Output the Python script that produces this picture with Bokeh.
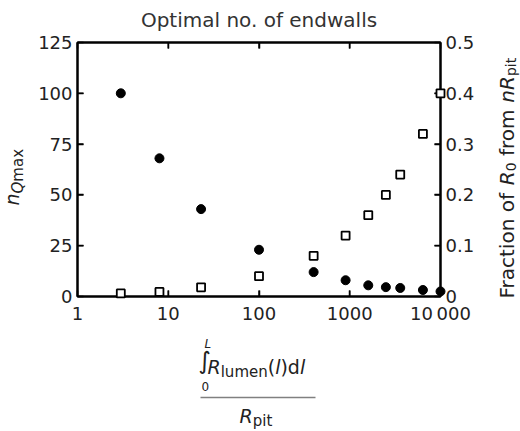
import math
from bokeh.plotting import figure
from bokeh.models import (Range1d, LinearAxis, LogAxis, FixedTicker,
                          CustomJSTickFormatter)
from bokeh.core.properties import value
from bokeh.embed import file_html
from bokeh.resources import INLINE

# ---- data ----
ratio = [3, 8, 23, 100, 400, 900, 1600, 2500, 3600, 6400, 10000]
n_qmax = [100, 68, 43, 23, 12, 8, 5.5, 4.6, 4.2, 3.2, 2.5]
frac_r0 = [0.006, 0.009, 0.018, 0.04, 0.08, 0.12, 0.16, 0.2, 0.24, 0.32, 0.4]

x_ticks = [1, 10, 100, 1000, 10000]
x_tick_labels = ["1", "10", "100", "1000", "10\u2009000"]
n_ticks = [0, 25, 50, 75, 100, 125]
n_tick_labels = ["0", "25", "50", "75", "100", "125"]
frac_ticks = [0, 0.1, 0.2, 0.3, 0.4, 0.5]
frac_tick_labels = ["0", "0.1", "0.2", "0.3", "0.4", "0.5"]

FONT = "DejaVu Sans"
TXT = "#222222"
W, H = 520, 431
FL, FR, FT, FB = 77, 440, 42, 296   # frame edges in canvas pixels
XMIN, XMAX, YMIN, YMAX = 1, 10000, 0, 125
FMIN, FMAX = 0, 0.5
SHIFT = 0.36   # em offset between requested anchor and drawn baseline
TICK = 6       # inward tick length, px

p = figure(width=W, height=H, x_axis_type="log",
           x_range=Range1d(XMIN, XMAX), y_range=Range1d(YMIN, YMAX),
           output_backend="svg", toolbar_location=None,
           min_border_left=FL, min_border_right=W - FR,
           min_border_top=FT, min_border_bottom=H - FB)
p.extra_y_ranges = {"frac": Range1d(FMIN, FMAX)}
p.grid.visible = False
p.outline_line_color = "black"
p.outline_line_width = 2
p.background_fill_color = "white"
p.border_fill_color = "white"


def fmt(tvals, tlabels):
    return CustomJSTickFormatter(args=dict(tv=tvals, tl=tlabels), code="""
        const i = tv.findIndex(t => Math.abs(t - tick) < 1e-9 * Math.max(1, Math.abs(t)));
        return i >= 0 ? tl[i] : '';
    """)


def style_axis(ax, show_labels=True, standoff=5):
    ax.axis_line_color = "black"
    ax.axis_line_width = 2
    ax.major_tick_in = TICK
    ax.major_tick_out = 0
    ax.major_tick_line_color = "black"
    ax.major_tick_line_width = 1.5
    ax.minor_tick_line_color = None
    ax.major_label_text_font = FONT
    ax.major_label_text_font_size = "18px"
    ax.major_label_text_color = TXT
    ax.major_label_standoff = standoff
    if not show_labels:
        ax.major_label_text_alpha = 0
        ax.major_label_text_font_size = "1px"


xb = p.xaxis[0]
xb.ticker = FixedTicker(ticks=x_ticks)
xb.formatter = fmt(x_ticks, x_tick_labels)
style_axis(xb, standoff=6)

yl = p.yaxis[0]
yl.ticker = FixedTicker(ticks=n_ticks)
yl.formatter = fmt(n_ticks, n_tick_labels)
style_axis(yl, standoff=5)

xt = LogAxis(ticker=FixedTicker(ticks=x_ticks))
style_axis(xt, show_labels=False)
p.add_layout(xt, "above")

yr = LinearAxis(y_range_name="frac", ticker=FixedTicker(ticks=frac_ticks),
                formatter=fmt(frac_ticks, frac_tick_labels))
style_axis(yr, standoff=5)
p.add_layout(yr, "right")

# inward tick marks drawn from the tick lists (inside the frame)
dy_tick = TICK / (FB - FT) * (YMAX - YMIN)
kx_tick = 10 ** (TICK / (FR - FL) * (math.log10(XMAX) - math.log10(XMIN)))
inner_x = [t for t in x_ticks if XMIN < t < XMAX]
p.segment(x0=inner_x, y0=[YMIN] * len(inner_x), x1=inner_x, y1=[YMIN + dy_tick] * len(inner_x),
          line_color="black", line_width=1.5)
p.segment(x0=inner_x, y0=[YMAX] * len(inner_x), x1=inner_x, y1=[YMAX - dy_tick] * len(inner_x),
          line_color="black", line_width=1.5)
inner_n = [v for v in n_ticks if YMIN < v < YMAX]
p.segment(x0=[XMIN] * len(inner_n), y0=inner_n, x1=[XMIN * kx_tick] * len(inner_n), y1=inner_n,
          line_color="black", line_width=1.5)
inner_f = [v for v in frac_ticks if FMIN < v < FMAX]
p.segment(x0=[XMAX] * len(inner_f), y0=inner_f, x1=[XMAX / kx_tick] * len(inner_f), y1=inner_f,
          y_range_name="frac", line_color="black", line_width=1.5)

# ---- marks (overlay level so edge markers are not clipped) ----
sq = p.scatter(ratio, frac_r0, y_range_name="frac", marker="square", size=8,
               fill_color="white", line_color="black", line_width=1.8)
sq.level = "overlay"
ci = p.scatter(ratio, n_qmax, marker="circle", size=9,
               fill_color="black", line_color="black")
ci.level = "overlay"

# ---- texts outside the frame, as text glyphs ----
ADV = {"F": .575, "r": .411, "a": .613, "c": .550, "t": .392, "i": .278,
       "o": .612, "n": .634, " ": .318, "f": .352, "m": .974, "R": .695,
       "0": .636, "p": .635, "Q": .787, "x": .592, "l": .278, "u": .634,
       "e": .615, "d": .635, "(": .390, ")": .390, "L": .557}


def adv(s, size):
    return sum(ADV.get(ch, 0.6) for ch in s) * size


def to_data(X, Y):
    xd = 10 ** (math.log10(XMIN) + (X - FL) / (FR - FL) * (math.log10(XMAX) - math.log10(XMIN)))
    yd = YMIN + (FB - Y) / (FB - FT) * (YMAX - YMIN)
    return xd, yd


def label(text, X, Y, size, style="normal", vertical=False, align="left", color=TXT):
    # X, Y: start of the text on its baseline (canvas pixels)
    lead = adv(text[:len(text) - len(text.lstrip())], size)
    text = text.strip()
    if vertical:
        X, Y, angle = X - SHIFT * size, Y - lead, math.pi / 2
    else:
        X, Y, angle = X + lead, Y - SHIFT * size, 0.0
    xd, yd = to_data(X, Y)
    r = p.text(x=[xd], y=[yd], text=[text], angle=angle,
               text_font=value(FONT), text_font_size=value(f"{size}px"),
               text_font_style=value(style), text_align=value(align),
               text_baseline=value("alphabetic"), text_color=value(color))
    r.level = "overlay"


def hrun(pieces, X, Y):
    for text, size, style, dy in pieces:
        label(text, X, Y + dy, size, style)
        X += adv(text, size)
    return X


def vrun(pieces, X, Y):
    # text rotated 90 deg counter-clockwise, reading bottom to top
    for text, size, style, dx in pieces:
        label(text, X + dx, Y, size, style, vertical=True)
        Y -= adv(text, size)
    return Y


# title
label("Optimal no. of endwalls", (FL + FR) / 2, 27, 20, align="center", color="#333333")

# left axis title: n_Qmax
vrun([("n", 19, "italic", 0), ("Q", 15, "italic", 4), ("max", 15, "normal", 4)], 18.5, 205)

# right axis title: Fraction of R_0 from nR_pit
vrun([("Fraction of ", 20, "normal", 0), ("R", 20, "italic", 0), ("0", 14, "normal", 2),
      (" from ", 20, "normal", 0), ("n", 20, "italic", 0), ("R", 20, "italic", 0),
      ("pit", 14, "normal", 2)], 513.5, 298)

# x axis title: integral of R_lumen over R_pit
label("\u222b", 198, 369, 24)
label("L", 204, 348, 12, "italic")
label("0", 201, 390, 12)
hrun([("R", 19, "italic", 0), ("lumen", 15, "normal", 4), ("(", 19, "normal", 0),
      ("l", 19, "italic", 0), (")d", 19, "normal", 0), ("l", 19, "italic", 0)], 207, 373)
bx0, by = to_data(200, 397)
bx1, _ = to_data(315, 397)
bar = p.segment(x0=[bx0], y0=[by], x1=[bx1], y1=[by], line_color="#808080", line_width=1.6)
bar.level = "overlay"
hrun([("R", 19, "italic", 0), ("pit", 15, "normal", 4)], 239, 422)

open("out.html", "w").write(file_html(p, INLINE))
